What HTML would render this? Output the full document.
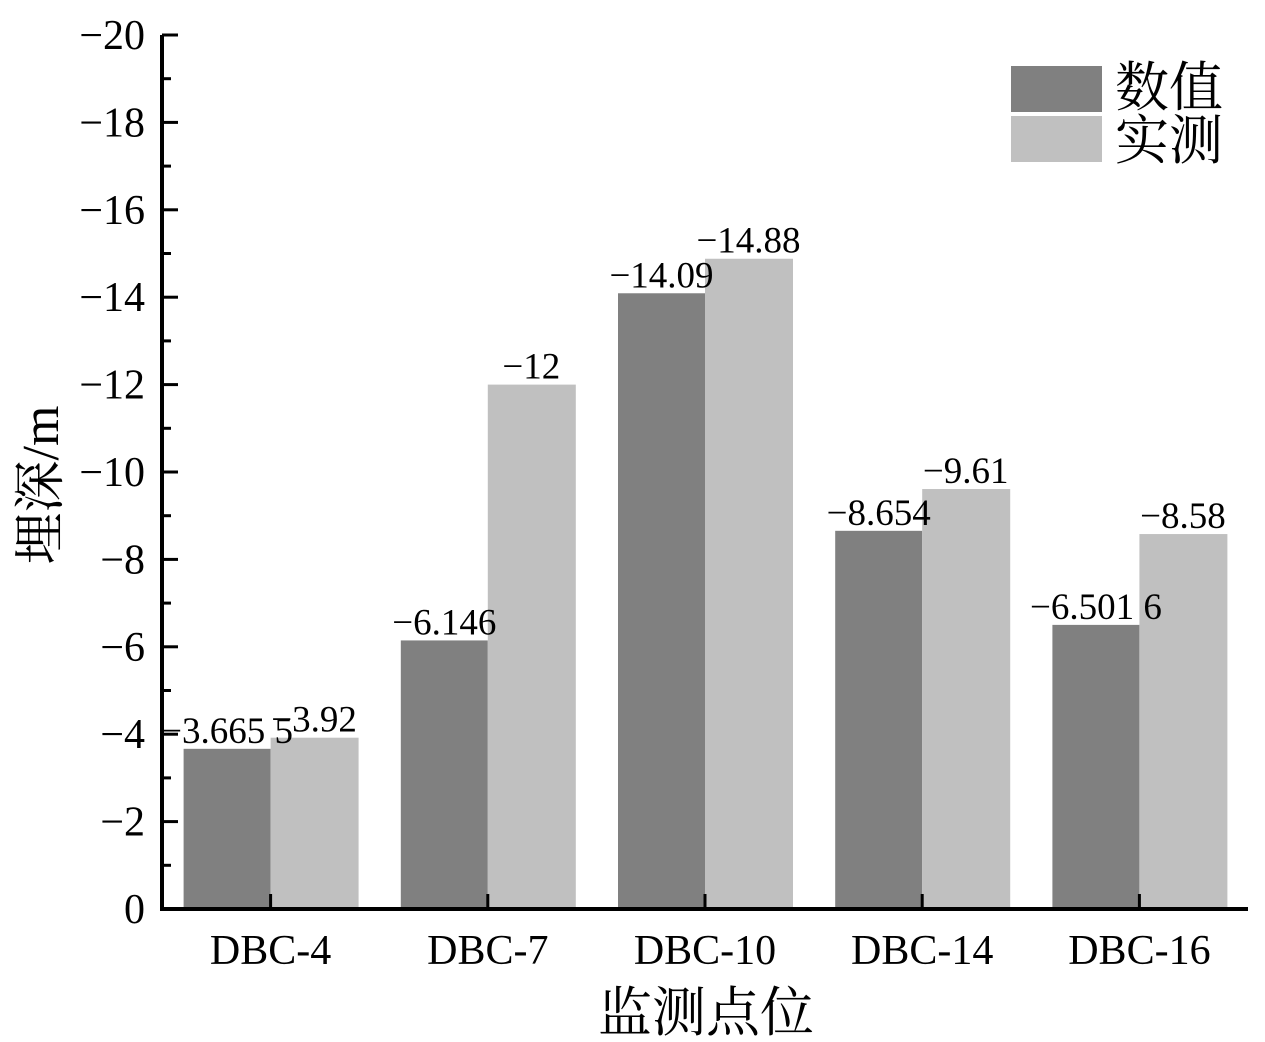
<!DOCTYPE html>
<html><head><meta charset="utf-8"><style>
body{margin:0;background:#fff}
svg{display:block;font-family:"Liberation Serif","Noto Serif CJK SC",serif}
</style></head><body>
<svg id="c" width="1265" height="1042"></svg>
<script>
const categories=["DBC-4","DBC-7","DBC-10","DBC-14","DBC-16"];
const simValues=[-3.6655,-6.146,-14.09,-8.654,-6.5016];
const measValues=[-3.92,-12,-14.88,-9.61,-8.58];
const simLabels=["\u22123.665 5","\u22126.146","\u221214.09","\u22128.654","\u22126.501 6"];
const measLabels=["\u22123.92","\u221212","\u221214.88","\u22129.61","\u22128.58"];
const yTicks=[0,-2,-4,-6,-8,-10,-12,-14,-16,-18,-20];
const NS="http://www.w3.org/2000/svg";
const svg=document.getElementById('c');
const X0=162,X1=1248,Y0=909,Y1=35;
const y=v=>Y0+(v/-20)*(Y1-Y0);
const band=(X1-X0)/categories.length;
const cx=i=>X0+band*(i+0.5);
const bw=87;
function mk(t,a,txt){const e=document.createElementNS(NS,t);for(const k in a)e.setAttribute(k,a[k]);if(txt!=null)e.textContent=txt;svg.appendChild(e);return e;}
categories.forEach((c,i)=>{
 let b=mk('rect',{x:cx(i)-bw,y:y(simValues[i]),width:bw,height:Y0-y(simValues[i]),fill:'#808080'});
 
 
 let m=mk('rect',{x:cx(i),y:y(measValues[i]),width:bw+1,height:Y0-y(measValues[i]),fill:'#c0c0c0'});
 
 
 let l1=mk('text',{x:cx(i)-bw/2,y:y(simValues[i])-6,'font-size':37,'text-anchor':'middle'},simLabels[i]);
 
 
 let l2=mk('text',{x:cx(i)+bw/2,y:y(measValues[i])-6,'font-size':37,'text-anchor':'middle'},measLabels[i]);
 
 
 let tk=mk('line',{x1:cx(i),x2:cx(i),y1:Y0,y2:Y0-15,stroke:'#000','stroke-width':3});
 
 
 let tl=mk('text',{x:cx(i),y:964,'font-size':42,'text-anchor':'middle'},c);
 
 
});
for(let v=0;v>=-20;v-=1){
 const major=v%2===0;
 let t=mk('line',{x1:X0,x2:X0+(major?16:9),y1:y(v),y2:y(v),stroke:'#000','stroke-width':3});
 
 
}
yTicks.forEach(v=>{
 let t=mk('text',{x:145,y:y(v)+14,'font-size':42,'text-anchor':'end'},v===0?'0':'\u2212'+(-v));
 
 
});
let ax=mk('path',{d:`M${X0} ${Y1}V${Y0}H${X1}`,fill:'none',stroke:'#000','stroke-width':4});


let xt=mk('text',{x:706,y:1031,'font-size':54,'text-anchor':'middle'},'监测点位');


let yt=mk('text',{x:0,y:0,'font-size':52,'text-anchor':'middle',transform:'translate(58,485) rotate(-90)'},'埋深/m');


let g1=mk('rect',{x:1011,y:66,width:91,height:46,fill:'#808080'});


let g2=mk('rect',{x:1011,y:116,width:91,height:46,fill:'#c0c0c0'});


let t1=mk('text',{x:1115,y:106,'font-size':54},'数值');


let t2=mk('text',{x:1115,y:159,'font-size':54},'实测');


</script>
</body></html>
